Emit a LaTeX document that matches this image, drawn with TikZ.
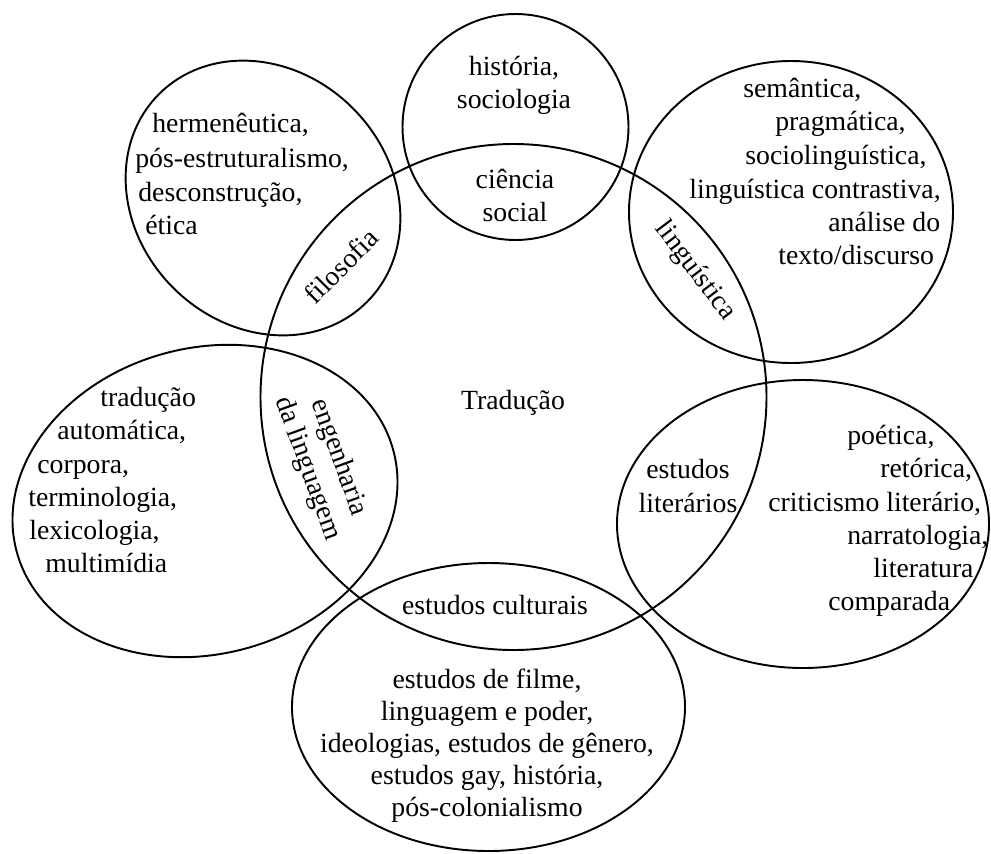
\documentclass[tikz,border=0pt]{standalone}
\usepackage{fontspec}
\setmainfont{Liberation Serif}
\begin{document}
\begin{tikzpicture}[x=0.02cm,y=-0.02cm,
  ring/.style={line width=1.1pt},
  lbl/.style={inner sep=0pt,font=\fontsize{15.8}{18.8}\selectfont,align=center},
  row/.style={lbl,anchor=west,text height=0.68em,text depth=0.22em}]
\useasboundingbox (0,0) rectangle (991,853);

\draw[ring] (513.5,397) circle [radius=253]; %Traducao
\draw[ring] (515.5,127) circle [radius=113]; %top
\draw[ring,rotate around={-45:(263,198)}] (263,198) ellipse [x radius=147,y radius=127]; %upper left
\draw[ring] (791,212) ellipse [x radius=162,y radius=151]; %upper right
\draw[ring,rotate around={15:(205,501)}] (205,501) ellipse [x radius=195,y radius=153]; %left
\draw[ring] (803,524) ellipse [x radius=186,y radius=144]; %right
\draw[ring] (488.5,707) ellipse [x radius=196.5,y radius=144]; %bottom

\node[lbl] (trad) at (513,403) {Tradução};

% intersections
\node[lbl] (cien) at (515,195) {ciência\\social};
\node[lbl,rotate=45] (filo) at (341,266) {filosofia};
\node[lbl,rotate=-53] (ling) at (695,271) {linguística};
\node[lbl,rotate=-70] (enge) at (323,463) {engenharia\\da linguagem};
\node[lbl] (estlit) at (688,486) {estudos\\literários};
\node[lbl] (estcul) at (495,605) {estudos culturais};

% top
\node[lbl] (hist) at (514,85) {história,\\sociologia};

% upper left
\node[row] (herm) at (152,128) {hermenêutica,};
\node[row] (posest) at (135,163) {pós-estruturalismo,};
\node[row] (desc) at (138,197) {desconstrução,};
\node[row] (etic) at (145,230) {ética};

% upper right
\node[row] (sema) at (743,93) {semântica,};
\node[row] (prag) at (775,126) {pragmática,};
\node[row] (socio) at (745,160) {sociolinguística,};
\node[row] (lcon) at (689,194) {linguística contrastiva,};
\node[row] (anal) at (828,227) {análise do};
\node[row] (text) at (778,260) {texto/discurso};

% left
\node[row] (trau) at (100,402) {tradução};
\node[row] (auto) at (57,435) {automática,};
\node[row] (corp) at (37,469) {corpora,};
\node[row] (term) at (28,502) {terminologia,};
\node[row] (lexi) at (29,535) {lexicologia,};
\node[row] (mult) at (45,568) {multimídia};

% right
\node[row] (poet) at (847,440) {poética,};
\node[row] (reto) at (880,473) {retórica,};
\node[row] (crit) at (768,507) {criticismo literário,};
\node[row] (narr) at (847,540) {narratologia,};
\node[row] (lite) at (873,573) {literatura};
\node[row] (comp) at (828,606) {comparada};

% bottom
\node[lbl,font=\fontsize{15.8}{18.2}\selectfont] (film) at (487,746) {estudos de filme,\\linguagem e poder,\\ideologias, estudos de gênero,\\estudos gay, história,\\pós-colonialismo};
\end{tikzpicture}
\end{document}
